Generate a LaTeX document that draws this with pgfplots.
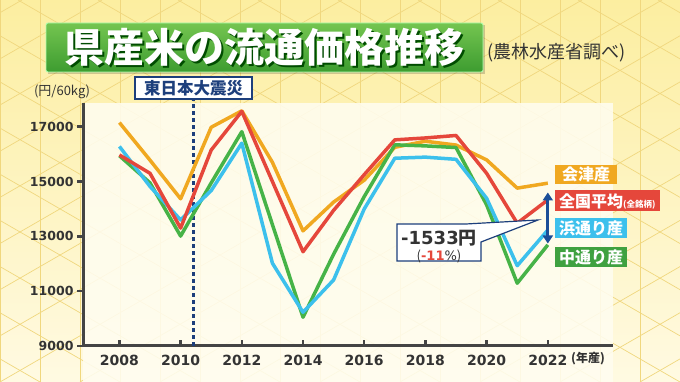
\documentclass[border=0pt]{standalone}
\usepackage{fontspec}
\usepackage{pgfplots}
\pgfplotsset{compat=1.18}
\usetikzlibrary{arrows.meta}
\setmainfont{DejaVu Sans}
\newfontfamily\jp{Noto Sans CJK JP}
\definecolor{orng}{HTML}{F0A820}
\definecolor{redl}{HTML}{E5473B}
\definecolor{grnl}{HTML}{46B347}
\definecolor{blul}{HTML}{3CC0EC}
\definecolor{navy}{HTML}{1D3F7C}
\definecolor{arrowb}{HTML}{1B4E98}
\definecolor{axgray}{HTML}{444444}
\definecolor{txt}{HTML}{333333}
\definecolor{bgtop}{HTML}{FCEEA0}
\definecolor{bgbot}{HTML}{FFFAE2}
\definecolor{patt}{HTML}{F0D77E}
\definecolor{plotbg}{HTML}{FFFDF0}
\definecolor{ttop}{HTML}{74C550}
\definecolor{tbot}{HTML}{3D9C30}

\pgfplotstableread{
year v
2008 17150
2009 15780
2010 14370
2011 16980
2012 17580
2013 15700
2014 13200
2015 14250
2016 15050
2017 16250
2018 16470
2019 16330
2020 15790
2021 14760
2022 14940
}\aizu
\pgfplotstableread{
year v
2008 15970
2009 15300
2010 13300
2011 16150
2012 17560
2013 15000
2014 12440
2015 13950
2016 15250
2017 16520
2018 16590
2019 16680
2020 15300
2021 13480
2022 14330
}\zenkoku
\pgfplotstableread{
year v
2008 15940
2009 14950
2010 13010
2011 14950
2012 16820
2013 13430
2014 10050
2015 12350
2016 14450
2017 16340
2018 16300
2019 16240
2020 14150
2021 11290
2022 12690
}\naka
\pgfplotstableread{
year v
2008 16280
2009 14820
2010 13600
2011 14670
2012 16400
2013 12020
2014 10230
2015 11410
2016 14000
2017 15850
2018 15890
2019 15810
2020 14390
2021 11930
2022 13230
}\hama

\begin{document}
\begin{tikzpicture}[x=1pt,y=1pt]
\useasboundingbox (0,0) rectangle (680,382);
\clip (0,0) rectangle (680,382);
\shade[top color=bgtop, bottom color=bgbot] (0,0) rectangle (680,382);
% lattice pattern
\foreach \i in {-12,...,12} {
  \draw[patt, line width=0.7pt] (\i*80,0) -- ++(662,382);
  \draw[patt, line width=0.7pt] (\i*80+680,0) -- ++(-662,382);
}
\foreach \i in {0,...,17} {
  \draw[patt, line width=0.7pt] (\i*40,0) -- (\i*40,382);
}
\fill[plotbg, opacity=0.88] (83,0) rectangle (613,279);

% title
\fill[black, opacity=0.18] (48,308) rectangle (485,357);
\shade[top color=ttop, bottom color=tbot, rounded corners=2pt, draw=white!70!green, line width=0.8pt] (46,310) rectangle (483,359);
\node[text=black!70!green, font=\jp\bfseries\fontsize{40}{40}\selectfont] at (266,333) {県産米の流通価格推移};
\node[text=white, font=\jp\bfseries\fontsize{40}{40}\selectfont] at (264.5,334.5) {県産米の流通価格推移};
\node[anchor=west, text=txt, font=\jp\fontsize{18}{18}\selectfont, inner sep=0pt] at (487,329) {(農林水産省調べ)};

\begin{axis}[
  at={(83pt,36pt)}, anchor=south west, scale only axis,
  width=530pt, height=243pt,
  xmin=2006.81, xmax=2024.13, ymin=9000, ymax=17865,
  axis x line=bottom, axis y line=left,
  axis line style={-, line width=3pt, color=axgray},
  xtick={2008,2010,...,2022}, ytick={9000,11000,...,17000},
  tick align=outside,
  major tick length=6pt,
  tick style={line width=2.5pt, color=axgray},
  major x tick style={yshift=6pt},
  /pgf/number format/assume math mode=true,
  /pgf/number format/1000 sep={},
  scaled ticks=false,
  xticklabel style={font=\bfseries\fontsize{14}{14}\selectfont, text=txt},
  yticklabel style={font=\bfseries\fontsize{12.5}{12.5}\selectfont, text=txt},
  clip=false,
]
\draw[navy, line width=2.5pt, dash pattern=on 4pt off 3pt] (axis cs:2010.42,9000) -- (axis cs:2010.42,18000);
\addplot[orng, line width=3.5pt, line join=round, no markers] table[x=year,y=v] {\aizu};
\addplot[grnl, line width=3.5pt, line join=round, no markers] table[x=year,y=v] {\naka};
\addplot[blul, line width=3.5pt, line join=round, no markers] table[x=year,y=v] {\hama};
\addplot[redl, line width=3.5pt, line join=round, no markers] table[x=year,y=v] {\zenkoku};
\draw[arrowb, line width=3pt, {Triangle[length=8pt,width=10pt]}-{Triangle[length=8pt,width=10pt]}] (axis cs:2022,14600) -- (axis cs:2022,12740);
\end{axis}

% earthquake label
\node[draw=navy, line width=1.2pt, fill=white, minimum width=117pt, minimum height=22pt, inner sep=0pt, text=navy, font=\jp\bfseries\fontsize{16.5}{16.5}\selectfont] at (193.5,294) {東日本大震災};

% axis unit labels
\node[text=txt, font=\jp\fontsize{13}{13}\selectfont] at (62,290) {(円/60kg)};
\node[text=txt, font=\jp\bfseries\fontsize{12}{12}\selectfont] at (588,23) {(年産)};

% legend labels
\node[fill=orng, text=white, anchor=west, minimum height=19pt, inner ysep=0pt, inner xsep=7pt, font=\jp\bfseries\fontsize{16}{16}\selectfont] at (555,207.5) {会津産};
\node[fill=redl, text=white, anchor=west, minimum height=21pt, inner ysep=0pt, inner xsep=4pt, font=\jp\bfseries\fontsize{16}{16}\selectfont] at (555,181) {全国平均{\fontsize{8.5}{8.5}\selectfont(全銘柄)}};
\node[fill=blul, text=white, anchor=west, minimum height=20pt, inner ysep=0pt, inner xsep=4pt, font=\jp\bfseries\fontsize{16}{16}\selectfont] at (555,154) {浜通り産};
\node[fill=grnl!90!black, text=white, anchor=west, minimum height=20pt, inner ysep=0pt, inner xsep=4pt, font=\jp\bfseries\fontsize{16}{16}\selectfont] at (555,125) {中通り産};

% callout
\draw[navy, line width=1.2pt, fill=white, line join=miter] (397,121) -- (481,121) -- (481,140) -- (538,162) -- (466,158) -- (397,158) -- cycle;
\node[text=txt, font=\bfseries\fontsize{18}{18}\selectfont] at (439,144) {-1533{\jp 円}};
\node[text=txt, font=\fontsize{13}{13}\selectfont] at (439,126) {{\jp (}{\color{redl}\bfseries -11}\%{\jp )}};
\end{tikzpicture}
\end{document}
